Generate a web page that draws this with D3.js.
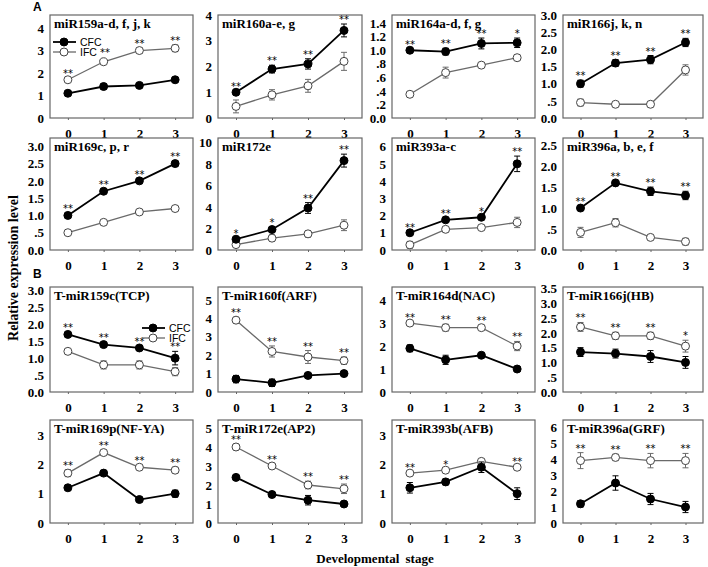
<!DOCTYPE html>
<html>
<head>
<meta charset="utf-8">
<script src="https://cdn.jsdelivr.net/npm/d3@7"></script>
<style>
    body { margin: 0; background: #fff; }
    svg text { fill: #000; font-variant-emoji: text; }
</style>
</head>
<body>
<svg id="chart" width="708" height="567"></svg>
<script>
// stages on the x axis
var stages = [0, 1, 2, 3];

var panelTitles = [
    'miR159a-d, f, j, k', 'miR160a-e, g', 'miR164a-d, f, g', 'miR166j, k, n',
    'miR169c, p, r', 'miR172e', 'miR393a-c', 'miR396a, b, e, f',
    'T-miR159c(TCP)', 'T-miR160f(ARF)', 'T-miR164d(NAC)', 'T-miR166j(HB)',
    'T-miR169p(NF-YA)', 'T-miR172e(AP2)', 'T-miR393b(AFB)', 'T-miR396a(GRF)'
];

var cfcMean = [
    [1.1, 1.4, 1.45, 1.7], [1.0, 1.9, 2.1, 3.4], [1.0, 0.98, 1.1, 1.11], [1.0, 1.6, 1.7, 2.2],
    [1.0, 1.7, 2.0, 2.5], [1.0, 1.9, 3.9, 8.3], [1.0, 1.75, 1.9, 5.0], [1.0, 1.6, 1.4, 1.3],
    [1.7, 1.4, 1.3, 1.0], [0.7, 0.5, 0.9, 1.0], [1.9, 1.4, 1.6, 1.0], [1.35, 1.3, 1.2, 1.0],
    [1.2, 1.7, 0.8, 1.0], [2.4, 1.5, 1.2, 1.0], [1.2, 1.4, 1.9, 1.0], [1.2, 2.5, 1.5, 1.0]
];
var cfcErr = [
    [0.1, 0.12, 0.1, 0.08], [0.05, 0.15, 0.2, 0.25], [0.02, 0.05, 0.08, 0.07], [0.1, 0.1, 0.12, 0.12],
    [0.07, 0.06, 0.06, 0.08], [0.1, 0.2, 0.5, 0.6], [0.05, 0.1, 0.1, 0.45], [0.05, 0.05, 0.1, 0.1],
    [0.07, 0.07, 0.07, 0.2], [0.2, 0.2, 0.1, 0.1], [0.15, 0.2, 0.05, 0.1], [0.15, 0.15, 0.2, 0.2],
    [0.07, 0.05, 0.07, 0.12], [0.1, 0.15, 0.25, 0.1], [0.18, 0.1, 0.18, 0.2], [0.2, 0.45, 0.35, 0.35]
];
var ifcMean = [
    [1.7, 2.5, 3.0, 3.1], [0.45, 0.9, 1.25, 2.2], [0.35, 0.67, 0.78, 0.89], [0.45, 0.4, 0.4, 1.4],
    [0.5, 0.8, 1.1, 1.2], [0.5, 1.1, 1.5, 2.3], [0.3, 1.2, 1.3, 1.6], [0.42, 0.65, 0.3, 0.2],
    [1.2, 0.8, 0.8, 0.6], [3.9, 2.2, 1.9, 1.7], [3.0, 2.8, 2.8, 2.0], [2.2, 1.9, 1.9, 1.55],
    [1.7, 2.4, 1.9, 1.8], [4.0, 3.0, 2.0, 1.8], [1.7, 1.8, 2.1, 1.9], [3.9, 4.1, 3.9, 3.9]
];
var ifcErr = [
    [0.08, 0.08, 0.12, 0.15], [0.25, 0.2, 0.25, 0.35], [0.03, 0.08, 0.02, 0.04], [0.1, 0.07, 0.07, 0.15],
    [0.05, 0.04, 0.05, 0.06], [0.1, 0.3, 0.3, 0.5], [0.2, 0.15, 0.1, 0.3], [0.12, 0.1, 0.05, 0.08],
    [0.07, 0.12, 0.12, 0.12], [0.15, 0.3, 0.35, 0.2], [0.05, 0.15, 0.1, 0.2], [0.15, 0.12, 0.12, 0.2],
    [0.12, 0.08, 0.07, 0.1], [0.15, 0.08, 0.2, 0.25], [0.03, 0.04, 0.04, 0.05], [0.5, 0.2, 0.45, 0.45]
];

var starMarks = [
    ['**', '', '**', '**'], ['**', '**', '**', '**'], ['**', '**', '**', '*'], ['**', '**', '**', '**'],
    ['**', '**', '**', '**'], ['*', '*', '**', '**'], ['**', '**', '*', '**'], ['**', '**', '**', '**'],
    ['**', '**', '**', '**'], ['**', '**', '**', '**'], ['**', '**', '**', '**'], ['**', '**', '**', '*'],
    ['**', '**', '**', '**'], ['**', '**', '**', '**'], ['**', '*', '', '**'], ['**', '**', '**', '**']
];

var yTickLabels = [
    ['0', '1', '2', '3', '4'], ['0', '1', '2', '3', '4'],
    ['0.0', '.2', '.4', '.6', '.8', '1.0', '1.2', '1.4'], ['0.0', '.5', '1.0', '1.5', '2.0', '2.5', '3.0'],
    ['0.0', '.5', '1.0', '1.5', '2.0', '2.5', '3.0'], ['0', '2', '4', '6', '8', '10'],
    ['0', '1', '2', '3', '4', '5', '6'], ['0.0', '.5', '1.0', '1.5', '2.0', '2.5'],
    ['0.0', '.5', '1.0', '1.5', '2.0', '2.5', '3.0'], ['0', '1', '2', '3', '4', '5'],
    ['0', '1', '2', '3', '4'], ['0.0', '.5', '1.0', '1.5', '2.0', '2.5', '3.0', '3.5'],
    ['0', '1', '2', '3'], ['0', '1', '2', '3', '4', '5'],
    ['0', '1', '2', '3'], ['0', '1', '2', '3', '4', '5', '6']
];

// top of each panel's y range
var yMax = [
    4.58, 4, 1.52, 3,
    3.24, 10.4, 6.5, 2.67,
    3.1, 5.7, 4.57, 3.55,
    3.51, 5.42, 3.51, 6.44
];

var seriesNames = ['CFC', 'IFC'];

var svg = d3.select('#chart');

var colLeft = [50, 218, 392, 563],
    colWidth = [143, 144, 143, 140],
    rowTop = [15, 138, 287, 420],
    rowBottom = [118, 250, 392, 523];

var serif = '"Liberation Serif", "Times New Roman", serif',
    sans = '"Liberation Sans", Arial, sans-serif',
    starFont = '"DejaVu Sans", "Liberation Sans", sans-serif';

var boxColor = '#666',
    ifcColor = '#6a6a6a';

function drawPanel(i) {
    var col = i % 4,
        row = Math.floor(i / 4),
        left = colLeft[col],
        right = left + colWidth[col],
        top = rowTop[row],
        bottom = rowBottom[row];

    var x = d3.scaleLinear().domain([-0.5, 3.5]).range([left, right]);
    var y = d3.scaleLinear().domain([0, yMax[i]]).range([bottom, top]);

    var g = svg.append('g').attr('class', 'panel');

    // frame
    g.append('rect')
        .attr('x', left).attr('y', top)
        .attr('width', right - left).attr('height', bottom - top)
        .attr('fill', 'none').attr('stroke', boxColor).attr('stroke-width', 1.2);

    // y axis labels, no tick lines
    var yAxis = d3.axisLeft(y)
        .tickValues(yTickLabels[i].map(Number))
        .tickFormat(function(d, k) { return yTickLabels[i][k]; })
        .tickSize(0).tickPadding(6);
    var ya = g.append('g').attr('transform', 'translate(' + left + ',0)').call(yAxis);
    ya.select('.domain').remove();
    ya.selectAll('text')
        .attr('font-family', serif).attr('font-weight', 'bold').attr('font-size', 13);

    // x axis
    var xAxis = d3.axisBottom(x).tickValues(stages).tickFormat(d3.format('d'))
        .tickSize(2).tickPadding(9);
    var xa = g.append('g').attr('transform', 'translate(0,' + bottom + ')').call(xAxis);
    xa.select('.domain').remove();
    xa.selectAll('line').attr('stroke', boxColor);
    xa.selectAll('text')
        .attr('font-family', serif).attr('font-weight', 'bold').attr('font-size', 13);

    // title
    g.append('text')
        .attr('x', left + 4).attr('y', top + 13)
        .attr('font-family', serif).attr('font-weight', 'bold').attr('font-size', 13)
        .text(panelTitles[i]);

    var series = [
        { name: 'IFC', mean: ifcMean[i], err: ifcErr[i], stroke: ifcColor, fill: '#fff', width: 1.3 },
        { name: 'CFC', mean: cfcMean[i], err: cfcErr[i], stroke: '#000', fill: '#000', width: 1.8 }
    ];

    var line = d3.line()
        .x(function(d, k) { return x(stages[k]); })
        .y(function(d) { return y(d); });

    series.forEach(function(s) {
        g.append('path')
            .datum(s.mean)
            .attr('d', line)
            .attr('fill', 'none').attr('stroke', s.stroke).attr('stroke-width', s.width);

        var eb = g.selectAll(null).data(s.mean).enter().append('g');
        eb.append('line')
            .attr('x1', function(d, k) { return x(stages[k]); })
            .attr('x2', function(d, k) { return x(stages[k]); })
            .attr('y1', function(d, k) { return y(d - s.err[k]); })
            .attr('y2', function(d, k) { return y(d + s.err[k]); })
            .attr('stroke', s.stroke).attr('stroke-width', 1);
        [-1, 1].forEach(function(sign) {
            eb.append('line')
                .attr('x1', function(d, k) { return x(stages[k]) - 3; })
                .attr('x2', function(d, k) { return x(stages[k]) + 3; })
                .attr('y1', function(d, k) { return y(d + sign * s.err[k]); })
                .attr('y2', function(d, k) { return y(d + sign * s.err[k]); })
                .attr('stroke', s.stroke).attr('stroke-width', 1);
        });

        g.selectAll(null).data(s.mean).enter().append('circle')
            .attr('cx', function(d, k) { return x(stages[k]); })
            .attr('cy', function(d) { return y(d); })
            .attr('r', 4)
            .attr('fill', s.fill)
            .attr('stroke', s.name === 'IFC' ? '#444' : '#000')
            .attr('stroke-width', 1);
    });

    // significance marks above the higher error bar
    g.selectAll(null).data(starMarks[i]).enter().append('text')
        .attr('x', function(d, k) { return x(stages[k]); })
        .attr('y', function(d, k) {
            var hi = Math.max(cfcMean[i][k] + cfcErr[i][k], ifcMean[i][k] + ifcErr[i][k]);
            return y(hi) - 1;
        })
        .attr('text-anchor', 'middle')
        .attr('font-family', starFont).attr('font-size', 10)
        .text(function(d) { return d; });
}

function drawLegend(lx, ly, ifcLabel) {
    var lg = svg.append('g');
    seriesNames.forEach(function(name, k) {
        var yy = ly + k * 10;
        var isCfc = name === 'CFC';
        lg.append('line')
            .attr('x1', lx).attr('x2', lx + 23).attr('y1', yy).attr('y2', yy)
            .attr('stroke', isCfc ? '#000' : ifcColor).attr('stroke-width', isCfc ? 1.8 : 1.3);
        lg.append('circle')
            .attr('cx', lx + 11).attr('cy', yy).attr('r', 4)
            .attr('fill', isCfc ? '#000' : '#fff')
            .attr('stroke', isCfc ? '#000' : '#444');
        var t = lg.append('text')
            .attr('x', lx + 27).attr('y', yy + 4)
            .attr('font-family', sans).attr('font-size', 10.5)
            .text(isCfc ? name : 'IFC');
        if (ifcLabel && !isCfc) {
            t.append('tspan').attr('font-family', starFont).attr('font-size', 10).text(ifcLabel);
        }
    });
}

for (var i = 0; i < panelTitles.length; i++) {
    drawPanel(i);
}

drawLegend(53, 42, ' **');
drawLegend(142, 328, '');

// section letters
svg.append('text').attr('x', 33).attr('y', 11)
    .attr('font-family', sans).attr('font-weight', 'bold').attr('font-size', 12).text('A');
svg.append('text').attr('x', 33).attr('y', 278)
    .attr('font-family', sans).attr('font-weight', 'bold').attr('font-size', 12).text('B');

// axis titles
svg.append('text')
    .attr('transform', 'translate(18,268) rotate(-90)')
    .attr('text-anchor', 'middle')
    .attr('font-family', serif).attr('font-weight', 'bold').attr('font-size', 14)
    .text('Relative expression level');

svg.append('text')
    .attr('x', 375).attr('y', 563)
    .attr('text-anchor', 'middle')
    .attr('font-family', serif).attr('font-weight', 'bold').attr('font-size', 13)
    .attr('word-spacing', 3)
    .text('Developmental stage');
</script>
</body>
</html>
